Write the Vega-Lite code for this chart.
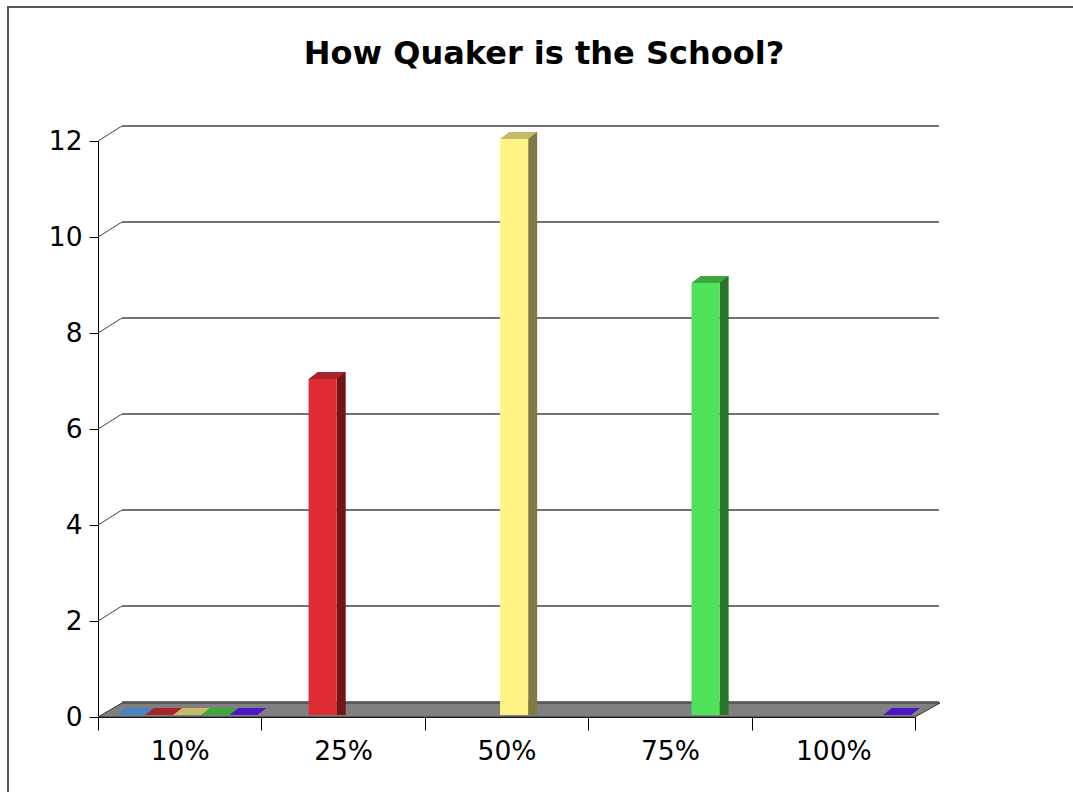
{
  "$schema": "https://vega.github.io/schema/vega-lite/v6.json",
  "width": 1080,
  "height": 800,
  "autosize": {"type": "none"},
  "padding": {"left": 8, "top": 7, "right": 0, "bottom": 0},
  "background": "white",
  "title": {
    "text": "How Quaker is the School?",
    "font": "DejaVu Sans",
    "fontWeight": "bold",
    "fontSize": 32,
    "color": "#000000",
    "anchor": "middle",
    "frame": "group",
    "baseline": "alphabetic",
    "offset": -89,
    "dx": -4
  },
  "config": {
    "view": {"stroke": "#555555", "strokeWidth": 2},
    "axisX": {
      "offset": -90,
      "grid": false,
      "tickBand": "extent",
      "tickSize": 13,
      "tickColor": "#000000",
      "domainColor": "#000000",
      "labelFont": "DejaVu Sans",
      "labelFontSize": 26.5,
      "labelColor": "#000000",
      "labelAngle": 0,
      "labelPadding": 8,
      "zindex": 1
    },
    "axisY": {
      "offset": -90,
      "grid": false,
      "tickSize": 9,
      "tickColor": "#000000",
      "domainColor": "#000000",
      "labelFont": "DejaVu Sans",
      "labelFontSize": 26.5,
      "labelColor": "#000000",
      "labelPadding": 7,
      "zindex": 1
    }
  },
  "datasets": {
    "answers": [
      {"answer": "10%", "series": "Series 1", "count": 0},
      {"answer": "10%", "series": "Series 2", "count": 0},
      {"answer": "10%", "series": "Series 3", "count": 0},
      {"answer": "10%", "series": "Series 4", "count": 0},
      {"answer": "10%", "series": "Series 5", "count": 0},
      {"answer": "25%", "series": "Series 2", "count": 7},
      {"answer": "50%", "series": "Series 3", "count": 12},
      {"answer": "75%", "series": "Series 4", "count": 9},
      {"answer": "100%", "series": "Series 5", "count": 0}
    ],
    "levels": [
      {"level": 0}, {"level": 2}, {"level": 4}, {"level": 6},
      {"level": 8}, {"level": 10}, {"level": 12}
    ]
  },
  "layer": [
    {
      "description": "Floor of the 3D plot",
      "data": {"values": [{}]},
      "mark": {
        "type": "point",
        "shape": "M-1,0.0166L0.9406,0.0166L1,-0.0166L-0.943,-0.0166Z",
        "size": 708964,
        "filled": true,
        "fill": "#808080",
        "stroke": "#333333",
        "strokeWidth": 1,
        "opacity": 1,
        "xOffset": 12.5,
        "yOffset": -7
      },
      "encoding": {
        "x": {
          "datum": "50%",
          "type": "nominal",
          "title": null,
          "scale": {"domain": ["10%", "25%", "50%", "75%", "100%"], "range": [90, 907], "paddingInner": 0, "paddingOuter": 0}
        },
        "y": {
          "datum": 0,
          "type": "quantitative",
          "title": null,
          "scale": {"domain": [0, 12], "range": [710, 134], "nice": false},
          "axis": {"values": [0, 2, 4, 6, 8, 10, 12], "format": "d"}
        }
      }
    },
    {
      "description": "Back wall grid lines",
      "data": {"name": "levels"},
      "mark": {
        "type": "rule",
        "color": "#444444",
        "strokeWidth": 1.5,
        "xOffset": 24,
        "x2Offset": 24,
        "yOffset": -15,
        "y2Offset": -15
      },
      "encoding": {
        "x": {"datum": "10%", "type": "nominal", "bandPosition": 0, "title": null},
        "x2": {"datum": "100%", "bandPosition": 1},
        "y": {"field": "level", "type": "quantitative", "title": null},
        "y2": {"field": "level"}
      }
    },
    {
      "description": "Side wall diagonals",
      "data": {"name": "levels"},
      "transform": [{"filter": "datum.level > 0"}],
      "mark": {
        "type": "rule",
        "color": "#444444",
        "strokeWidth": 1,
        "x2Offset": 24,
        "y2Offset": -15
      },
      "encoding": {
        "x": {"datum": "10%", "type": "nominal", "bandPosition": 0, "title": null},
        "x2": {"datum": "10%", "bandPosition": 0},
        "y": {"field": "level", "type": "quantitative", "title": null},
        "y2": {"field": "level"}
      }
    },
    {
      "description": "Bar side faces",
      "data": {"name": "answers"},
      "transform": [{"filter": "datum.count > 0"}],
      "mark": {"type": "bar", "yOffset": -9, "y2Offset": -2},
      "encoding": {
        "x": {"field": "answer", "type": "nominal", "title": null},
        "xOffset": {
          "field": "series", "type": "nominal",
          "scale": {"type": "band", "domain": ["Series 1", "Series 2", "Series 3", "Series 4", "Series 5"], "range": [47.2, 168.5], "paddingInner": 0.679, "paddingOuter": 0, "align": 0}
        },
        "y": {"field": "count", "type": "quantitative", "title": null},
        "y2": {"datum": 0},
        "color": {
          "field": "series", "type": "nominal", "legend": null,
          "scale": {"domain": ["Series 1", "Series 2", "Series 3", "Series 4", "Series 5"], "range": ["#2d4a70", "#701619", "#807a45", "#2a752d", "#2d0d73"]}
        }
      }
    },
    {
      "description": "Bar front faces, with top faces (flat patches for zero counts)",
      "data": {"name": "answers"},
      "layer": [
        {
          "transform": [{"filter": "datum.count > 0"}],
          "mark": {"type": "bar", "yOffset": -2, "y2Offset": -2},
          "encoding": {
            "x": {"field": "answer", "type": "nominal", "title": null},
            "xOffset": {
              "field": "series", "type": "nominal",
              "scale": {"type": "band", "domain": ["Series 1", "Series 2", "Series 3", "Series 4", "Series 5"], "paddingInner": 0, "paddingOuter": 0.41, "align": 0.83}
            },
            "y": {"field": "count", "type": "quantitative", "title": null},
            "y2": {"datum": 0},
            "color": {
              "field": "series", "type": "nominal", "legend": null,
              "scale": {"domain": ["Series 1", "Series 2", "Series 3", "Series 4", "Series 5"], "range": ["#5b91d8", "#df2c34", "#fff388", "#50e25a", "#5a1ae4"]}
            }
          }
        },
        {
          "mark": {
            "type": "point",
            "shape": "M-0.4375,0L0.4375,0L0.71875,-0.21875L-0.15625,-0.21875Z",
            "size": 4096,
            "filled": true,
            "opacity": 1,
            "yOffset": -2
          },
          "encoding": {
            "x": {"field": "answer", "type": "nominal", "title": null},
            "xOffset": {"field": "series", "type": "nominal"},
            "y": {"field": "count", "type": "quantitative", "title": null},
            "color": {
              "field": "series", "type": "nominal", "legend": null,
              "scale": {"domain": ["Series 1", "Series 2", "Series 3", "Series 4", "Series 5"], "range": ["#4a82c6", "#a8232a", "#c6bb6a", "#3ca83c", "#4b16c6"]}
            }
          }
        }
      ],
      "resolve": {"scale": {"color": "independent"}}
    }
  ],
  "resolve": {"scale": {"color": "independent", "xOffset": "independent"}}
}
